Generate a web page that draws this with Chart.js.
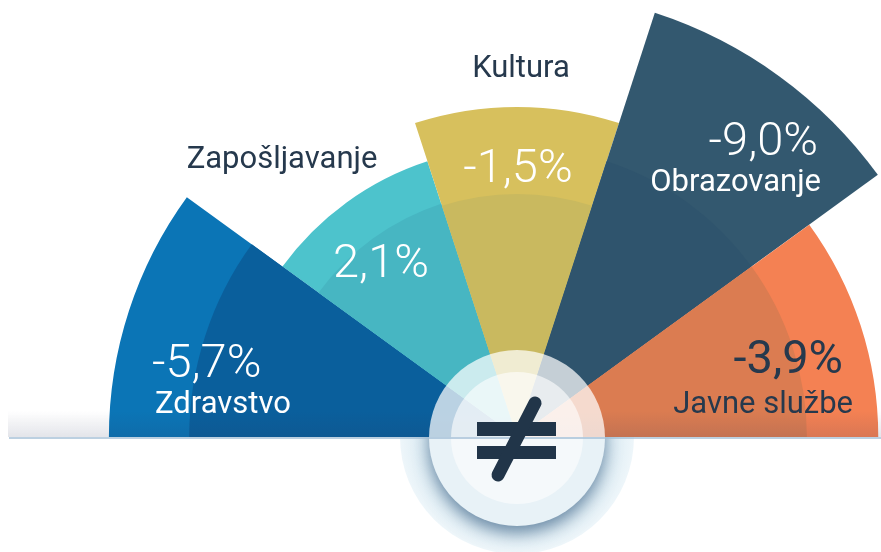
<!DOCTYPE html>
<html>
<head>
<meta charset="utf-8">
<script src="https://cdn.jsdelivr.net/npm/chart.js@4.4.1/dist/chart.umd.min.js"></script>
<style>
  html, body { margin: 0; padding: 0; background: #fff; overflow: hidden; }
  #wrap { position: relative; width: 881px; height: 552px; overflow: hidden; }
  #chart { position: absolute; left: 0; top: -9px; }
</style>
</head>
<body>
<div id="wrap"><canvas id="chart" width="1034" height="892"></canvas></div>
<script>
// categories and the change shown in each slice
const categories = ['Zdravstvo', 'Zapošljavanje', 'Kultura', 'Obrazovanje', 'Javne službe'];
const changeLabels = ['-5,7%', '2,1%', '-1,5%', '-9,0%', '-3,9%'];
// slice length (relative, 0-10) and the darker inner part of each slice
const arcSizes = [9.15, 6.5, 7.4, 10, 8.1];
const innerSizes = [7.35, 5.5, 5.45, 6.5, 6.5];
const outerColors = ['#0b75b6', '#4dc3cc', '#d7c05d', '#33586f', '#f48153'];
const innerColors = ['#0a5f9c', '#47b6c2', '#c9b95f', '#2f546d', '#db7c51'];

const DARK = '#26394d';

// where each label sits, relative to the center of the half circle
const labelStyle = [
    { v: [-365, -60, 'left', '#fff'], n: [-362, -24, 'left', '#fff'] },
    { v: [-136, -160, 'center', '#fff'], n: [-235, -269, 'center', DARK] },
    { v: [1, -255, 'center', '#fff'], n: [4, -360, 'center', DARK] },
    { v: [301, -282, 'right', '#fff'], n: [304, -246, 'right', '#fff'] },
    { v: [326, -64, 'right', DARK, 400], n: [336, -24, 'right', DARK] }
];

const decor = {
    id: 'decor',
    beforeDatasetsDraw(chart) {
        const ctx = chart.ctx, s = chart.scales.r;
        const cx = s.xCenter, cy = s.yCenter;
        // pale halo behind the medallion
        const g = ctx.createRadialGradient(cx, cy, 85, cx, cy, 117);
        g.addColorStop(0, '#d6e8f1');
        g.addColorStop(1, '#eef6fa');
        ctx.save();
        ctx.fillStyle = g;
        ctx.beginPath();
        ctx.arc(cx, cy, 117, 0, Math.PI * 2);
        ctx.fill();
        ctx.restore();
    },
    afterDatasetsDraw(chart) {
        const ctx = chart.ctx, s = chart.scales.r;
        const cx = s.xCenter, cy = s.yCenter;
        const W = chart.width, H = chart.height;

        // soft shade along the base
        ctx.save();
        const band = ctx.createLinearGradient(0, cy - 26, 0, cy);
        band.addColorStop(0, 'rgba(40,50,90,0)');
        band.addColorStop(1, 'rgba(40,50,90,0.13)');
        ctx.fillStyle = band;
        ctx.fillRect(8, cy - 26, W, 26);
        ctx.restore();

        // labels
        ctx.save();
        ctx.textBaseline = 'alphabetic';
        labelStyle.forEach((st, i) => {
            const v = st.v, n = st.n;
            ctx.font = (v[4] || 300) + ' 47px Roboto';
            ctx.fillStyle = v[3];
            ctx.textAlign = v[2];
            ctx.fillText(changeLabels[i], cx + v[0], cy + v[1]);
            ctx.font = '400 31px Roboto';
            ctx.fillStyle = n[3];
            ctx.textAlign = n[2];
            ctx.fillText(categories[i], cx + n[0], cy + n[1]);
        });
        ctx.restore();

        // medallion, lower half solid with a shadow
        ctx.save();
        ctx.beginPath();
        ctx.rect(0, cy, W, H);
        ctx.clip();
        ctx.shadowColor = 'rgba(35,75,115,0.6)';
        ctx.shadowBlur = 16;
        ctx.shadowOffsetY = 7;
        ctx.fillStyle = '#e8f2f7';
        ctx.beginPath();
        ctx.arc(cx, cy + 1, 88, 0, Math.PI * 2);
        ctx.fill();
        ctx.shadowColor = 'transparent';
        ctx.fillStyle = '#f5f9fb';
        ctx.beginPath();
        ctx.arc(cx, cy + 1, 66, 0, Math.PI * 2);
        ctx.fill();
        ctx.restore();

        // upper half see-through
        ctx.save();
        ctx.beginPath();
        ctx.rect(0, 0, W, cy);
        ctx.clip();
        ctx.fillStyle = 'rgba(255,255,255,0.72)';
        ctx.beginPath();
        ctx.arc(cx, cy + 1, 88, 0, Math.PI * 2);
        ctx.fill();
        ctx.fillStyle = 'rgba(255,255,255,0.6)';
        ctx.beginPath();
        ctx.arc(cx, cy + 1, 66, 0, Math.PI * 2);
        ctx.fill();
        ctx.restore();

        // base line
        ctx.save();
        ctx.fillStyle = 'rgba(160,188,212,0.7)';
        ctx.fillRect(9, cy, W, 2);
        ctx.restore();

        // the "not equal" sign
        ctx.save();
        ctx.fillStyle = '#213549';
        ctx.fillRect(cx - 40, cy - 15, 79, 14);
        ctx.fillRect(cx - 40, cy + 9, 79, 13);
        ctx.strokeStyle = '#213549';
        ctx.lineWidth = 13;
        ctx.lineCap = 'round';
        ctx.beginPath();
        ctx.moveTo(cx + 18, cy - 34);
        ctx.lineTo(cx - 19, cy + 38);
        ctx.stroke();
        ctx.restore();
    }
};

new Chart(document.getElementById('chart'), {
    type: 'polarArea',
    data: {
        labels: categories,
        datasets: [{
            label: 'inner',
            data: innerSizes,
            backgroundColor: innerColors,
            borderWidth: 0,
            order: 1
        }, {
            label: 'outer',
            data: arcSizes,
            backgroundColor: outerColors,
            borderWidth: 0,
            order: 2
        }]
    },
    options: {
        responsive: false,
        animation: false,
        events: [],
        elements: {
            arc: { angle: 180 / categories.length, borderWidth: 0 }
        },
        plugins: {
            legend: { display: false },
            tooltip: { enabled: false }
        },
        scales: {
            r: {
                min: 0,
                max: 10,
                startAngle: 270,
                ticks: { display: false },
                grid: { display: false },
                angleLines: { display: false },
                pointLabels: { display: false }
            }
        }
    },
    plugins: [decor]
});
</script>
</body>
</html>
